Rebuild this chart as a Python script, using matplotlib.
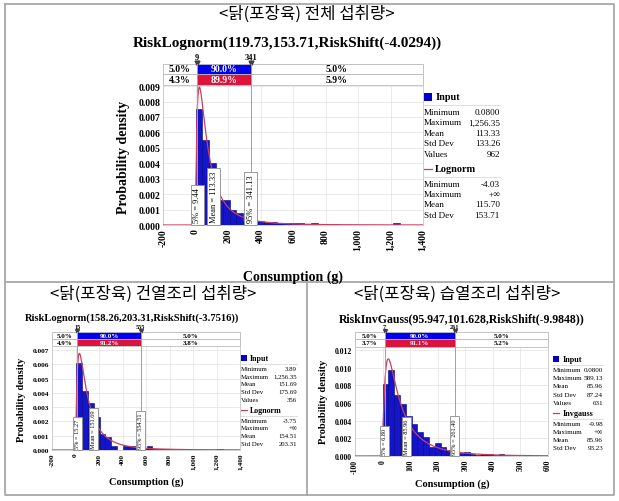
import numpy as np
import matplotlib
matplotlib.use('Agg')
from matplotlib import pyplot as plt
from matplotlib import transforms
from matplotlib.patches import Rectangle

W, H = 619, 502
SERIF = 'Liberation Serif'
KOREAN = ['Noto Sans CJK KR', 'DejaVu Sans']

plt.rcParams['font.family'] = SERIF

# ---- 전체 섭취량 ----
total_title = '<닭(포장육) 전체 섭취량>'
total_fit = 'RiskLognorm(119.73,153.71,RiskShift(-4.0294))'
total_params = (119.73, 153.71, -4.0294)
total_bin_start = 0.08
total_bin_width = 41.876
total_density = [0.0075, 0.0055, 0.0040, 0.0016, 0.0016, 0.00095, 0.00075, 0.0002,
                 0.0003, 0.00025, 0.0002, 0.0002, 0.00012, 0.00012, 0.0001, 0.00015,
                 0.00005, 0.0001, 0.00005, 0.00005, 0.00005, 0.00003, 0.00003, 0.00003,
                 0.00002, 0.0, 0.00002, 0.0, 0.00003, 0.0001]
total_marks = [9, 341]
total_row1 = ['5.0%', '90.0%', '5.0%']
total_row2 = ['4.3%', '89.9%', '5.9%']
total_label_x = [9.44, 113.33, 341.13]
total_labels = ['5% = 9.44', 'Mean = 113.33', '95% = 341.13']
total_input = [('Minimum', '0.0800'), ('Maximum', '1,256.35'), ('Mean', '113.33'),
               ('Std Dev', '133.26'), ('Values', '962')]
total_fit_name = 'Lognorm'
total_fit_stats = [('Minimum', '-4.03'), ('Maximum', '+∞'), ('Mean', '115.70'),
                   ('Std Dev', '153.71')]

# ---- 건열조리 섭취량 ----
dry_title = '<닭(포장육) 건열조리 섭취량>'
dry_fit = 'RiskLognorm(158.26,203.31,RiskShift(-3.7516))'
dry_params = (158.26, 203.31, -3.7516)
dry_bin_start = 3.89
dry_bin_width = 50.1
dry_density = [0.0061, 0.0041, 0.0033, 0.0023, 0.0011, 0.0009, 0.0003, 0.0,
               0.0003, 0.0003, 0.00015, 0.0001, 0.0003, 0.00006, 0.00006, 0.00006,
               0.0001, 0.00003, 0.0, 0.00003, 0.0, 0.0, 0.0, 0.0, 0.0001]
dry_marks = [15, 555]
dry_row1 = ['5.0%', '90.0%', '5.0%']
dry_row2 = ['4.9%', '91.2%', '3.8%']
dry_label_x = [15.27, 151.69, 554.51]
dry_labels = ['5% = 15.27', 'Mean = 151.69', '95% = 554.51']
dry_input = [('Minimum', '3.89'), ('Maximum', '1,256.35'), ('Mean', '151.69'),
             ('Std Dev', '175.69'), ('Values', '356')]
dry_fit_name = 'Lognorm'
dry_fit_stats = [('Minimum', '-3.75'), ('Maximum', '+∞'), ('Mean', '154.51'),
                 ('Std Dev', '203.31')]

# ---- 습열조리 섭취량 ----
wet_title = '<닭(포장육) 습열조리 섭취량>'
wet_fit = 'RiskInvGauss(95.947,101.628,RiskShift(-9.9848))'
wet_params = (95.947, 101.628, -9.9848)
wet_bin_start = 0.08
wet_bin_width = 21.04
wet_density = [0.0082, 0.0097, 0.0069, 0.0059, 0.0045, 0.0036, 0.0027, 0.0021,
               0.0010, 0.0015, 0.0010, 0.0007, 0.0010, 0.0003, 0.0005, 0.0002,
               0.0001, 0.0002, 0.0002, 0.0001, 0.0002, 0.0001, 0.0, 0.0001,
               0.0001, 0.00005, 0.0, 0.00005]
wet_marks = [7, 261]
wet_row1 = ['5.0%', '90.0%', '5.0%']
wet_row2 = ['3.7%', '91.1%', '5.2%']
wet_label_x = [6.80, 85.96, 261.40]
wet_labels = ['5% = 6.80', 'Mean = 85.96', '95% = 261.40']
wet_input = [('Minimum', '0.0800'), ('Maximum', '589.13'), ('Mean', '85.96'),
             ('Std Dev', '87.24'), ('Values', '631')]
wet_fit_name = 'Invgauss'
wet_fit_stats = [('Minimum', '-9.98'), ('Maximum', '+∞'), ('Mean', '85.96'),
                 ('Std Dev', '93.23')]


def lognorm_pdf(x, mean, sd, shift):
    s2 = np.log(1 + (sd / mean) ** 2)
    m = np.log(mean) - s2 / 2
    t = x - shift
    out = np.zeros_like(x)
    ok = t > 0
    out[ok] = np.exp(-(np.log(t[ok]) - m) ** 2 / (2 * s2)) / (t[ok] * np.sqrt(2 * np.pi * s2))
    return out


def invgauss_pdf(x, mu, lam, shift):
    t = x - shift
    out = np.zeros_like(x)
    ok = t > 0
    tt = t[ok]
    out[ok] = np.sqrt(lam / (2 * np.pi * tt ** 3)) * np.exp(-lam * (tt - mu) ** 2 / (2 * mu ** 2 * tt))
    return out


def px_rect(x0, y0, x1, y1):
    return [x0 / W, 1 - y1 / H, (x1 - x0) / W, (y1 - y0) / H]


fig = plt.figure(figsize=(W / 100, H / 100), dpi=100)
ov = fig.add_axes([0, 0, 1, 1])
ov.set_xlim(0, W)
ov.set_ylim(H, 0)
ov.axis('off')

# 표 테두리
line_c = '#A8A8A8'
ov.plot([5, 614, 614, 5, 5], [5, 5, 496, 496, 5], color=line_c, lw=1.3)
ov.plot([5, 614], [283, 283], color=line_c, lw=1.3)
ov.plot([307, 307], [283, 496], color=line_c, lw=1.3)


def draw_panel(g, kor, fit, pdf, bin_start, bin_width, density, xticks, yticks, marks,
               row1, row2, label_x, labels, input_stats, fit_name, fit_stats):
    x0, x1, ytop, ybot = g['ax']
    ax = fig.add_axes(px_rect(x0, ytop, x1, ybot))
    xlim = (xticks[0], xticks[-1])
    edges = bin_start + bin_width * np.arange(len(density) + 1)
    ax.bar(edges[:-1], density, width=bin_width, align='edge', color='#1414C8',
           edgecolor='#00008A', linewidth=0.4, zorder=2)
    xs = np.linspace(xlim[0], xlim[1], 3000)
    ax.plot(xs, pdf(xs), color='#C8405F', lw=0.9, zorder=3)
    ax.set_xlim(*xlim)
    ax.set_ylim(0, g['ymax'])
    ax.set_xticks(xticks)
    ax.set_xticklabels([f'{v:,.0f}' for v in xticks], rotation=90, fontweight='bold',
                       fontsize=g['tick'])
    ax.set_yticks(yticks)
    ax.set_yticklabels([f'{v:.3f}' for v in yticks], fontweight='bold', fontsize=g['tick'])
    ax.tick_params(length=0, pad=2)
    ax.grid(True, color='#E6E6E6', lw=0.6, zorder=0)
    ax.set_axisbelow(True)
    for sp in ax.spines.values():
        sp.set_color('#C8C8C8')
        sp.set_linewidth(0.6)

    # 구분 막대
    bt = transforms.blended_transform_factory(ax.transData, ov.transData)
    r0, r1, r2 = g['rows']
    segs = [(xlim[0], marks[0]), (marks[0], marks[1]), (marks[1], xlim[1])]
    for k, ((a, b), t1, t2) in enumerate(zip(segs, row1, row2)):
        fc1 = '#0000F5' if k == 1 else 'white'
        fc2 = '#DC143C' if k == 1 else 'white'
        tc = 'white' if k == 1 else 'black'
        ax.add_patch(Rectangle((a, r0), b - a, r1 - r0, transform=bt, fc=fc1,
                               ec='#B8B8B8', lw=0.6, clip_on=False))
        ax.add_patch(Rectangle((a, r1), b - a, r2 - r1, transform=bt, fc=fc2,
                               ec='#B8B8B8', lw=0.6, clip_on=False))
        ax.text((a + b) / 2, (r0 + r1) / 2, t1, transform=bt, ha='center', va='center',
                color=tc, fontsize=g['delim'], fontweight='bold', clip_on=False)
        ax.text((a + b) / 2, (r1 + r2) / 2, t2, transform=bt, ha='center', va='center',
                color=tc, fontsize=g['delim'], fontweight='bold', clip_on=False)
    for m in marks:
        ax.plot([m, m], [r0, ybot], transform=bt, color='#A0A0A0', lw=0.7,
                clip_on=False, zorder=4)
        ax.plot([m], [r0 - 1.5], 'v', transform=bt, color='#404040', ms=g['tri'],
                clip_on=False)
        ax.text(m, r0 - 3, str(m), transform=bt, ha='center', va='bottom',
                fontsize=g['mark'], fontweight='bold', clip_on=False)

    # 분위수 라벨
    for lx, lab in zip(label_x, labels):
        ax.text(lx, g['ymax'] * 0.02, lab, rotation=90, ha='center', va='bottom',
                fontsize=g['lab'], zorder=5,
                bbox=dict(boxstyle='square,pad=0.3', fc='white', ec='#8C8C8C', lw=0.6))

    # 제목, 축 이름
    ov.text(g['kor'][0], g['kor'][1], kor, ha='center', va='center',
            fontsize=g['kor'][2], family=KOREAN)
    ov.text(g['title'][0], g['title'][1], fit, ha='center', va='center',
            fontsize=g['title'][2], fontweight='bold')
    ov.text(g['ylab'][0], g['ylab'][1], 'Probability density', rotation=90,
            ha='center', va='center', fontsize=g['axlab'], fontweight='bold')
    ov.text(g['xlab'][0], g['xlab'][1], 'Consumption (g)', ha='center', va='center',
            fontsize=g['axlab'], fontweight='bold')

    # 범례
    lx0, lx1, ly, dy, gap = g['leg']
    fs = g['legfs']
    sq = fs * 1.25
    ov.add_patch(Rectangle((lx0, ly - sq / 2), sq, sq, fc='#0000C8', ec='none'))
    ov.text(lx0 + sq + 3, ly, 'Input', ha='left', va='center', fontsize=fs + 0.8,
            fontweight='bold')
    ov.plot([lx0, lx1], [ly + gap * 0.55] * 2, color='#D8D8D8', lw=0.6)
    y = ly + gap
    for k, v in input_stats:
        ov.text(lx0, y, k, ha='left', va='center', fontsize=fs)
        ov.text(lx1, y, v, ha='right', va='center', fontsize=fs)
        y += dy
    y += gap - dy
    ov.plot([lx0, lx0 + sq], [y, y], color='#C8405F', lw=0.9)
    ov.text(lx0 + sq + 3, y, fit_name, ha='left', va='center', fontsize=fs + 0.8,
            fontweight='bold')
    ov.plot([lx0, lx1], [y + gap * 0.55] * 2, color='#D8D8D8', lw=0.6)
    y += gap
    for k, v in fit_stats:
        ov.text(lx0, y, k, ha='left', va='center', fontsize=fs)
        ov.text(lx1, y, v, ha='right', va='center', fontsize=fs)
        y += dy
    return ax


top_g = dict(ax=(163, 423, 86, 226), ymax=0.00907, rows=(65, 75, 86), tick=7,
             delim=7, mark=6, tri=3.5, lab=6, kor=(307, 14, 12),
             title=(287, 43, 11), ylab=(123, 157), xlab=(293, 277), axlab=10,
             leg=(424, 500, 98, 10.4, 15), legfs=6.6)
dry_g = dict(ax=(52, 240, 347, 451), ymax=0.00728, rows=(333, 340, 347), tick=5.3,
             delim=5, mark=4.5, tri=2.8, lab=4.5, kor=(153, 294, 12),
             title=(132, 318, 7.6), ylab=(22, 400), xlab=(146, 482), axlab=7.5,
             leg=(241, 297, 359, 7.7, 10.5), legfs=4.9)
wet_g = dict(ax=(355, 548, 348, 457), ymax=0.01234, rows=(333, 340, 348), tick=5.6,
             delim=5, mark=4.5, tri=2.8, lab=4.5, kor=(457, 294, 12),
             title=(462, 319, 8.5), ylab=(323, 402), xlab=(452, 484), axlab=7.5,
             leg=(553, 603, 360, 8.2, 10.5), legfs=5.1)

draw_panel(top_g, total_title, total_fit, lambda x: lognorm_pdf(x, *total_params),
           total_bin_start, total_bin_width, total_density,
           np.arange(-200, 1401, 200), np.arange(0, 0.0091, 0.001), total_marks,
           total_row1, total_row2, total_label_x, total_labels, total_input,
           total_fit_name, total_fit_stats)
draw_panel(dry_g, dry_title, dry_fit, lambda x: lognorm_pdf(x, *dry_params),
           dry_bin_start, dry_bin_width, dry_density,
           np.arange(-200, 1401, 200), np.arange(0, 0.0071, 0.001), dry_marks,
           dry_row1, dry_row2, dry_label_x, dry_labels, dry_input,
           dry_fit_name, dry_fit_stats)
draw_panel(wet_g, wet_title, wet_fit, lambda x: invgauss_pdf(x, *wet_params),
           wet_bin_start, wet_bin_width, wet_density,
           np.arange(-100, 601, 100), np.arange(0, 0.0121, 0.002), wet_marks,
           wet_row1, wet_row2, wet_label_x, wet_labels, wet_input,
           wet_fit_name, wet_fit_stats)

fig.savefig('out.png', dpi=100)
